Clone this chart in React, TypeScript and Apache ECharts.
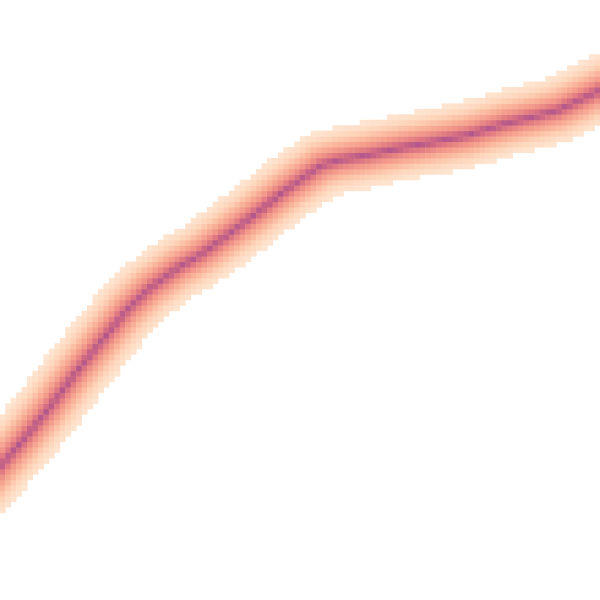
import React, { useEffect, useRef } from "react";
import * as echarts from "echarts";

// Grid of cells (columns x rows)
const COLS = 110;
const ROWS = 110;

// Centre line of the band, in cell units (x from left, y from bottom)
const lineX = [-5.5, 0, 4.2, 9.2, 14.3, 18.3, 23.3, 27.5, 32.6, 36.7, 42.2, 47.1, 51.9, 55.0, 59.0, 62.3, 67.3, 73.3, 79.4, 85.6, 89.8, 93.1, 97.7, 102.3, 106.3, 110, 115.5];
const lineY = [18.0, 24.4, 29.3, 35.4, 42.2, 47.1, 53.2, 57.2, 60.9, 63.3, 67.3, 71.0, 74.8, 77.0, 79.75, 80.7, 81.6, 82.9, 84.0, 85.25, 86.5, 87.5, 88.6, 89.8, 91.7, 93.5, 96.25];

// Density across the band: distance from the centre (cells) -> density
const profileDist = [0, 0.7, 1.7, 2.8, 3.9, 5.0, 6.2];
const profileVal = [1, 0.78, 0.58, 0.42, 0.28, 0.17, 0.09];

const palette = ["#fee6d2", "#fdd3b8", "#fab79d", "#f49b8b", "#e47f82", "#cc6783", "#b3568c"];

function distToLine(px: number, py: number): number {
  let best = Infinity;
  for (let k = 0; k < lineX.length - 1; k++) {
    const ax = lineX[k], ay = lineY[k], bx = lineX[k + 1], by = lineY[k + 1];
    const dx = bx - ax, dy = by - ay;
    const len2 = dx * dx + dy * dy;
    let t = ((px - ax) * dx + (py - ay) * dy) / len2;
    t = Math.max(0, Math.min(1, t));
    const qx = ax + t * dx - px, qy = ay + t * dy - py;
    const d = Math.sqrt(qx * qx + qy * qy);
    if (d < best) best = d;
  }
  return best;
}

function densityAt(d: number): number {
  if (d >= profileDist[profileDist.length - 1]) return 0;
  for (let k = 0; k < profileDist.length - 1; k++) {
    if (d <= profileDist[k + 1]) {
      const f = (d - profileDist[k]) / (profileDist[k + 1] - profileDist[k]);
      return profileVal[k] + f * (profileVal[k + 1] - profileVal[k]);
    }
  }
  return 0;
}

function buildCells(): number[][] {
  const out: number[][] = [];
  for (let i = 0; i < COLS; i++) {
    for (let j = 0; j < ROWS; j++) {
      const v = densityAt(distToLine(i + 0.5, j + 0.5));
      if (v >= 0.1) out.push([i, j, +v.toFixed(3)]);
    }
  }
  return out;
}

export default function App() {
  const ref = useRef<HTMLDivElement>(null);
  useEffect(() => {
    if (!ref.current) return;
    const chart = echarts.init(ref.current, null, { renderer: "svg" });
    const xCats = Array.from({ length: COLS }, (_, i) => String(i));
    const yCats = Array.from({ length: ROWS }, (_, i) => String(i));
    chart.setOption({
      animation: false,
      backgroundColor: "#ffffff",
      grid: { left: 0, right: 0, top: 0, bottom: 0 },
      xAxis: { type: "category", data: xCats, show: false },
      yAxis: { type: "category", data: yCats, show: false },
      visualMap: {
        show: false,
        type: "continuous",
        min: 0.1,
        max: 1,
        inRange: { color: palette },
      },
      series: [
        {
          type: "heatmap",
          data: buildCells(),
          itemStyle: { borderWidth: 0 },
          emphasis: { disabled: true },
        },
      ],
    });
    return () => chart.dispose();
  }, []);
  return (
    <div
      ref={ref}
      style={{ position: "fixed", left: 0, top: 0, width: 600, height: 600 }}
    />
  );
}
